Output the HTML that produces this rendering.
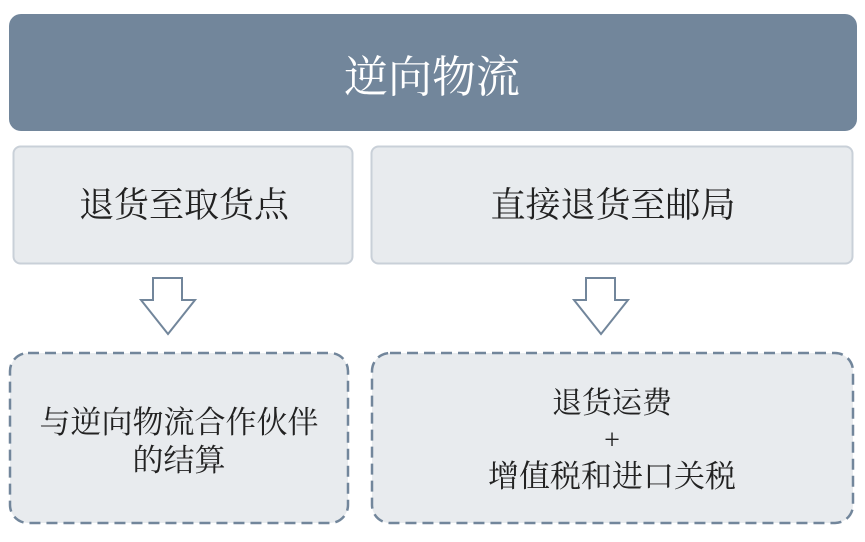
<!DOCTYPE html>
<html><head><meta charset="utf-8"><style>
html,body{margin:0;padding:0;background:#fff;width:865px;height:542px;overflow:hidden}
text{font-family:"Liberation Serif","Noto Serif CJK SC",serif}
</style></head><body>
<svg width="865" height="542" viewBox="0 0 865 542" xmlns="http://www.w3.org/2000/svg">
<rect x="9" y="14" width="848" height="117" rx="12" fill="#72869b"/>
<text x="432" y="92" font-size="44" fill="#fff" text-anchor="middle">逆向物流</text>
<rect x="13.5" y="146.5" width="339" height="117" rx="7" fill="#e8ebee" stroke="#c9d0d8" stroke-width="2"/>
<rect x="371.5" y="146.5" width="481" height="117" rx="7" fill="#e8ebee" stroke="#c9d0d8" stroke-width="2"/>
<text x="184" y="217" font-size="35" fill="#222" text-anchor="middle">退货至取货点</text>
<text x="613" y="217" font-size="35" fill="#222" text-anchor="middle">直接退货至邮局</text>
<polygon points="153,278 182,278 182,300 195,300 168,334 141,300 153,300" fill="#fff" stroke="#72869b" stroke-width="2"/>
<polygon points="586,278 615,278 615,300 628,300 601,334 574,300 586,300" fill="#fff" stroke="#72869b" stroke-width="2"/>
<rect x="10" y="353" width="338" height="170" rx="18" fill="#e8ebee" stroke="#72869b" stroke-width="2.5" stroke-dasharray="11,6"/>
<rect x="372" y="353" width="481" height="170" rx="18" fill="#e8ebee" stroke="#72869b" stroke-width="2.5" stroke-dasharray="11,6"/>
<text x="179" y="433" font-size="31" fill="#222" text-anchor="middle">与逆向物流合作伙伴</text>
<text x="179" y="471" font-size="31" fill="#222" text-anchor="middle">的结算</text>
<text x="612" y="413" font-size="30" fill="#222" text-anchor="middle">退货运费</text>
<text x="612" y="449" font-size="28" fill="#222" text-anchor="middle">+</text>
<text x="612" y="487" font-size="31" fill="#222" text-anchor="middle">增值税和进口关税</text>
</svg>
</body></html>
